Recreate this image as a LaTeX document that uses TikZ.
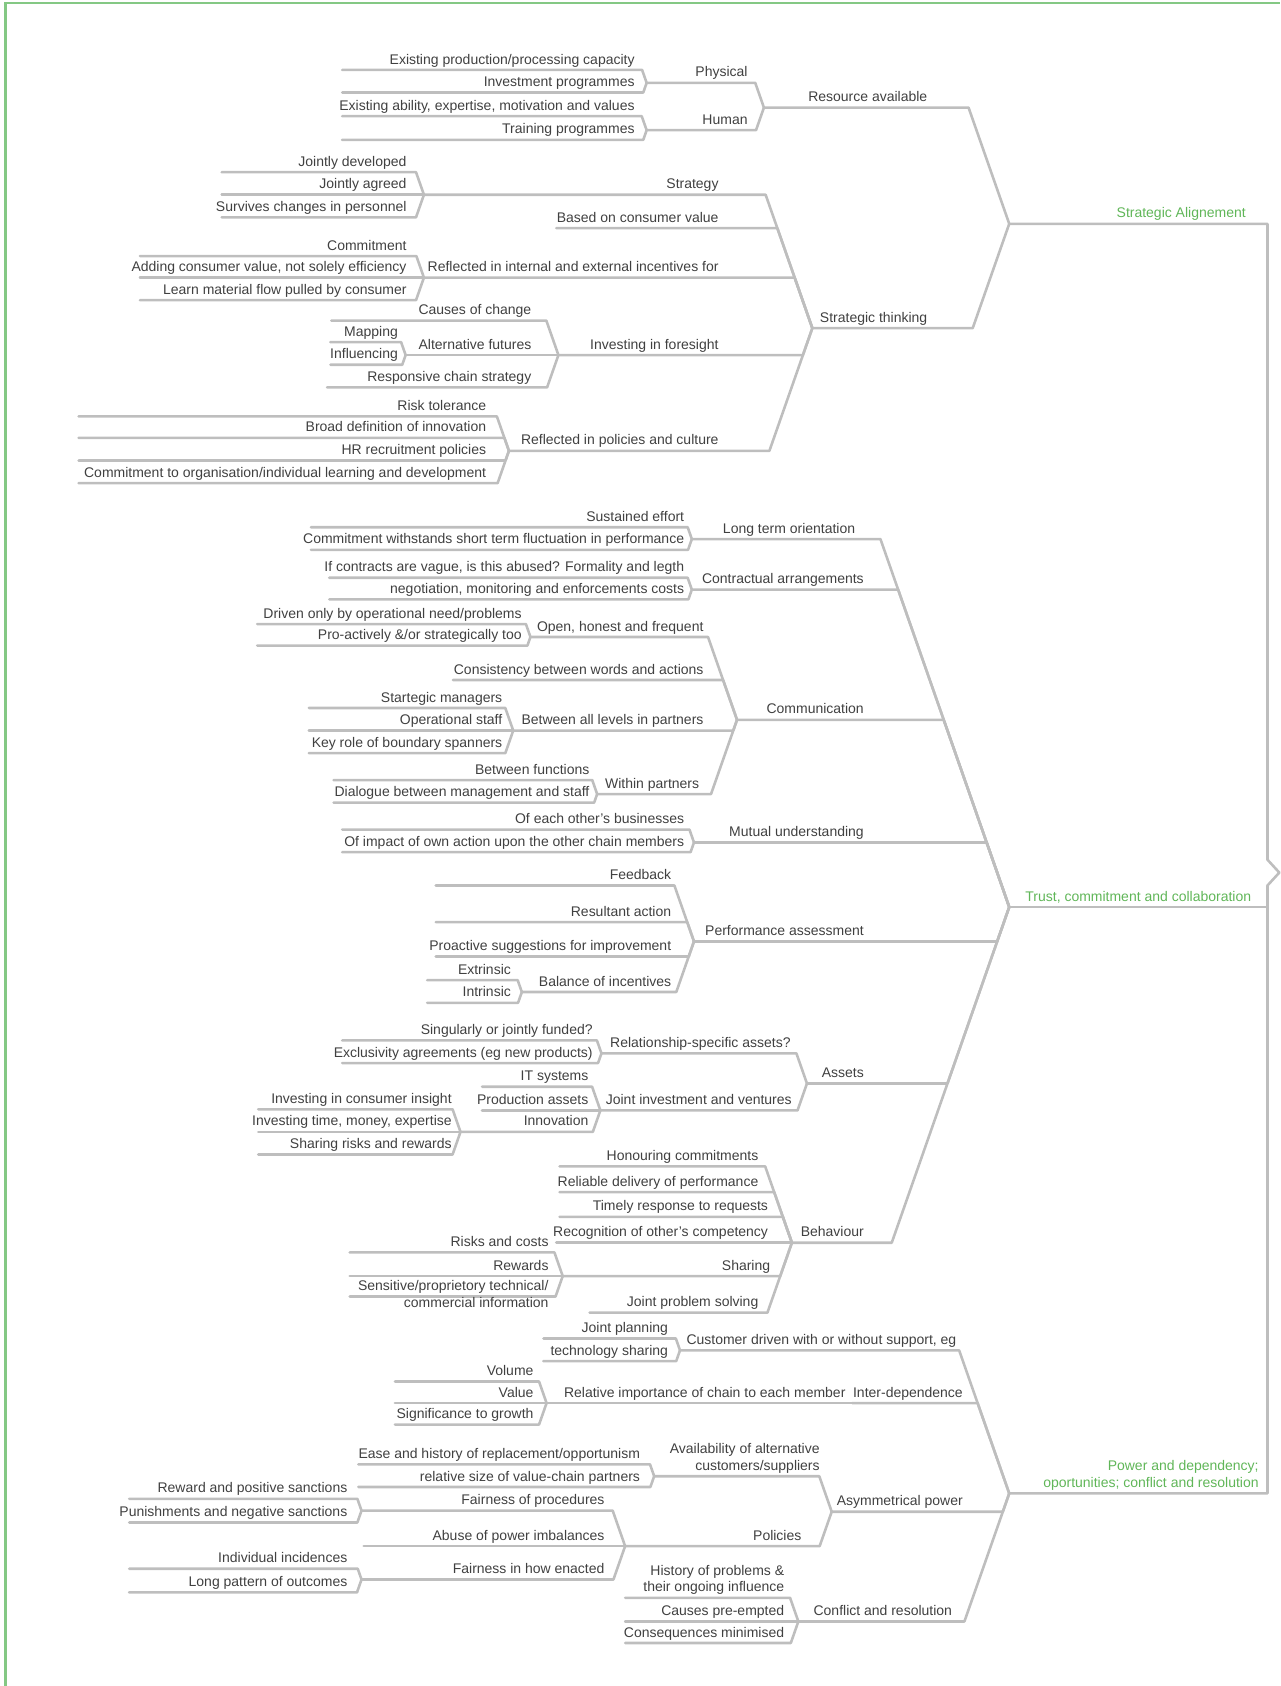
\documentclass[tikz,border=0pt]{standalone}
\usepackage{fontspec}
\setmainfont{Liberation Sans}
\usetikzlibrary{calc}
\definecolor{stemgray}{RGB}{190,190,190}
\definecolor{inkgray}{RGB}{64,64,64}
\definecolor{leafgreen}{RGB}{96,182,88}
\definecolor{framegreen}{RGB}{132,200,132}
% #1 name, #2 parent, #3 left x, #4 y, #5 right edge of text, #6 text
\newcommand{\twig}[6]{%
  \coordinate (#1-l) at (#3,#4);
  \path let \p1=(#2-l) in ({\x1-0.35*abs(\y1+#4pt)},{-#4pt}) coordinate (#1-r);
  \draw[stem] (#1-l) -- (#1-r) -- (#2-l);
  \node[txt] (#1) at (#5,#4) {#6};
}
\newcommand{\twolines}[2]{\begin{tabular}[b]{@{}r@{}}#1\\#2\end{tabular}}

\begin{document}
\begin{tikzpicture}[x=1pt,y=-1pt,
    font=\fontsize{13}{15.6}\selectfont,
    stem/.style={stemgray,line width=2.4pt,line cap=round,line join=round},
    txt/.style={inner sep=0pt,anchor=base east,yshift=5.5pt,text=inkgray},
    head/.style={txt,text=leafgreen}]
  \useasboundingbox (0,0) rectangle (1190,1567);
  \draw[framegreen,line width=2.4pt] (5.3,1567) -- (5.3,2.8) -- (1190,2.8);

  % trunk
  \coordinate (sa-l) at (938,208);  \coordinate (sa-r) at (1178,208);
  \coordinate (tr-l) at (938,843);  \coordinate (tr-r) at (1178,843);
  \coordinate (pw-l) at (938,1388); \coordinate (pw-r) at (1178,1388);
  \coordinate (nt-a) at (1178,799); \coordinate (nt-b) at (1178,823);
  \coordinate (root) at (1189,811);
  \draw[stem] (sa-l) -- (sa-r) -- (nt-a) -- (root) -- (nt-b) -- (pw-r) -- (pw-l);
  \draw[stem] (tr-l) -- (tr-r);
  \node[head] (sa) at (1158,208) {Strategic Alignement};
  \node[head] (tr) at (1163,843) {Trust, commitment and collaboration};
  \node[head] (pw) at (1170,1388) {\twolines{Power and dependency;}{oportunities; conflict and resolution}};

  % strategic alignement
  \twig{res}{sa}{710}{100}{862}{Resource available}
  \twig{phys}{res}{601}{77}{695}{Physical}
  \twig{cap}{phys}{318}{65}{590}{Existing production/processing capacity}
  \twig{invp}{phys}{318}{86}{590}{Investment programmes}
  \twig{hum}{res}{601}{121}{695}{Human}
  \twig{abil}{hum}{318}{108}{590}{Existing ability, expertise, motivation and values}
  \twig{train}{hum}{318}{130}{590}{Training programmes}
  \twig{think}{sa}{755}{305}{862}{Strategic thinking}
  \twig{strat}{think}{394}{181}{668}{Strategy}
  \twig{jdev}{strat}{206}{160}{378}{Jointly developed}
  \twig{jagr}{strat}{206}{181}{378}{Jointly agreed}
  \twig{surv}{strat}{206}{202}{378}{Survives changes in personnel}
  \twig{cval}{think}{517}{212}{668}{Based on consumer value}
  \twig{incent}{think}{394}{258}{668}{Reflected in internal and external incentives for}
  \twig{commit}{incent}{130}{238}{378}{Commitment}
  \twig{addv}{incent}{130}{258}{378}{Adding consumer value, not solely efficiency}
  \twig{learn}{incent}{130}{279}{378}{Learn material flow pulled by consumer}
  \twig{fore}{think}{519}{330}{668}{Investing in foresight}
  \twig{cause}{fore}{308}{298}{494}{Causes of change}
  \twig{altf}{fore}{377}{330}{494}{Alternative futures}
  \twig{map}{altf}{307}{318}{370}{Mapping}
  \twig{infl}{altf}{307}{339}{370}{Influencing}
  \twig{resp}{fore}{304}{360}{494}{Responsive chain strategy}
  \twig{polic}{think}{473}{419}{668}{Reflected in policies and culture}
  \twig{risk}{polic}{73}{387}{452}{Risk tolerance}
  \twig{broad}{polic}{73}{407}{452}{Broad definition of innovation}
  \twig{hr}{polic}{73}{428}{452}{HR recruitment policies}
  \twig{orgl}{polic}{73}{449}{452}{Commitment to organisation/individual learning and development}

  % trust, commitment and collaboration
  \twig{lto}{tr}{643}{501}{795}{Long term orientation}
  \twig{sust}{lto}{289}{490}{636}{Sustained effort}
  \twig{withs}{lto}{289}{511}{636}{Commitment withstands short term fluctuation in performance}
  \twig{contr}{tr}{643}{548}{803}{Contractual arrangements}
  \twig{vague}{contr}{306}{537}{636}{If contracts are vague, is this abused? Formality and legth}
  \twig{nego}{contr}{306}{557}{636}{negotiation, monitoring and enforcements costs}
  \twig{comm}{tr}{685}{669}{803}{Communication}
  \twig{open}{comm}{493}{592}{654}{Open, honest and frequent}
  \twig{drive}{open}{239}{580}{485}{Driven only by operational need/problems}
  \twig{proact}{open}{239}{600}{485}{Pro-actively \&/or strategically too}
  \twig{cons}{comm}{421}{632}{654}{Consistency between words and actions}
  \twig{levels}{comm}{477}{679}{654}{Between all levels in partners}
  \twig{smgr}{levels}{287}{658}{467}{Startegic managers}
  \twig{ostaff}{levels}{287}{679}{467}{Operational staff}
  \twig{span}{levels}{287}{700}{467}{Key role of boundary spanners}
  \twig{within}{comm}{555}{738}{650}{Within partners}
  \twig{func}{within}{310}{725}{548}{Between functions}
  \twig{dial}{within}{310}{746}{548}{Dialogue between management and staff}
  \twig{mutual}{tr}{645}{783}{803}{Mutual understanding}
  \twig{ebus}{mutual}{318}{771}{636}{Of each other’s businesses}
  \twig{impact}{mutual}{318}{792}{636}{Of impact of own action upon the other chain members}
  \twig{perf}{tr}{645}{875}{803}{Performance assessment}
  \twig{feed}{perf}{405}{823}{624}{Feedback}
  \twig{result}{perf}{405}{857}{624}{Resultant action}
  \twig{sugg}{perf}{405}{889}{624}{Proactive suggestions for improvement}
  \twig{bal}{perf}{485}{922}{624}{Balance of incentives}
  \twig{extr}{bal}{397}{911}{475}{Extrinsic}
  \twig{intr}{bal}{397}{932}{475}{Intrinsic}
  \twig{assets}{tr}{750}{1007}{803}{Assets}
  \twig{rel}{assets}{559}{979}{735}{Relationship-specific assets?}
  \twig{fund}{rel}{318}{967}{551}{Singularly or jointly funded?}
  \twig{excl}{rel}{318}{988}{551}{Exclusivity agreements (eg new products)}
  \twig{joint}{assets}{558}{1032}{736}{Joint investment and ventures}
  \twig{its}{joint}{448}{1010}{547}{IT systems}
  \twig{prod}{joint}{448}{1032}{547}{Production assets}
  \twig{innov}{joint}{428}{1052}{547}{Innovation}
  \twig{insight}{innov}{240}{1031}{420}{Investing in consumer insight}
  \twig{tme}{innov}{240}{1052}{420}{Investing time, money, expertise}
  \twig{share}{innov}{240}{1073}{420}{Sharing risks and rewards}
  \twig{behav}{tr}{736}{1155}{803}{Behaviour}
  \twig{honour}{behav}{520}{1084}{705}{Honouring commitments}
  \twig{reliab}{behav}{520}{1108}{705}{Reliable delivery of performance}
  \twig{timely}{behav}{520}{1131}{714}{Timely response to requests}
  \twig{recog}{behav}{517}{1155}{714}{Recognition of other’s competency}
  \twig{sharing}{behav}{523}{1186}{716}{Sharing}
  \twig{rcost}{sharing}{325}{1164}{510}{Risks and costs}
  \twig{rew}{sharing}{325}{1186}{510}{Rewards}
  \twig{sens}{sharing}{325}{1205}{510}{Sensitive/proprietory technical/}
  \node[txt] (sens-b) at (510,1221) {commercial information};
  \twig{jps}{behav}{548}{1220}{705}{Joint problem solving}

  % power and dependency
  \twig{cust}{pw}{632}{1255}{889}{Customer driven with or without support, eg}
  \twig{jplan}{cust}{505}{1244}{621}{Joint planning}
  \twig{tech}{cust}{505}{1265}{621}{technology sharing}
  \twig{inter}{pw}{792}{1304}{895}{Inter-dependence}
  \twig{relimp}{inter}{508}{1304}{786}{Relative importance of chain to each member}
  \twig{vol}{relimp}{367}{1284}{496}{Volume}
  \twig{val}{relimp}{367}{1304}{496}{Value}
  \twig{growth}{relimp}{367}{1324}{496}{Significance to growth}
  \twig{asym}{pw}{773}{1405}{895}{Asymmetrical power}
  \twig{avail}{asym}{608}{1372}{762}{\twolines{Availability of alternative}{customers/suppliers}}
  \twig{ease}{avail}{333}{1361}{595}{Ease and history of replacement/opportunism}
  \twig{rsize}{avail}{333}{1382}{595}{relative size of value-chain partners}
  \twig{pols}{asym}{581}{1437}{745}{Policies}
  \twig{fproc}{pols}{336}{1404}{562}{Fairness of procedures}
  \twig{rewp}{fproc}{120}{1393}{323}{Reward and positive sanctions}
  \twig{punish}{fproc}{120}{1415}{323}{Punishments and negative sanctions}
  \twig{abuse}{pols}{338}{1437}{562}{Abuse of power imbalances}
  \twig{fenact}{pols}{336}{1468}{562}{Fairness in how enacted}
  \twig{indiv}{fenact}{120}{1458}{323}{Individual incidences}
  \twig{longp}{fenact}{120}{1480}{323}{Long pattern of outcomes}
  \twig{confl}{pw}{742}{1507}{885}{Conflict and resolution}
  \twig{hist}{confl}{581}{1485}{729}{\twolines{History of problems \&}{their ongoing influence}}
  \twig{preem}{confl}{581}{1507}{729}{Causes pre-empted}
  \twig{conseq}{confl}{581}{1527}{729}{Consequences minimised}
\end{tikzpicture}
\end{document}
